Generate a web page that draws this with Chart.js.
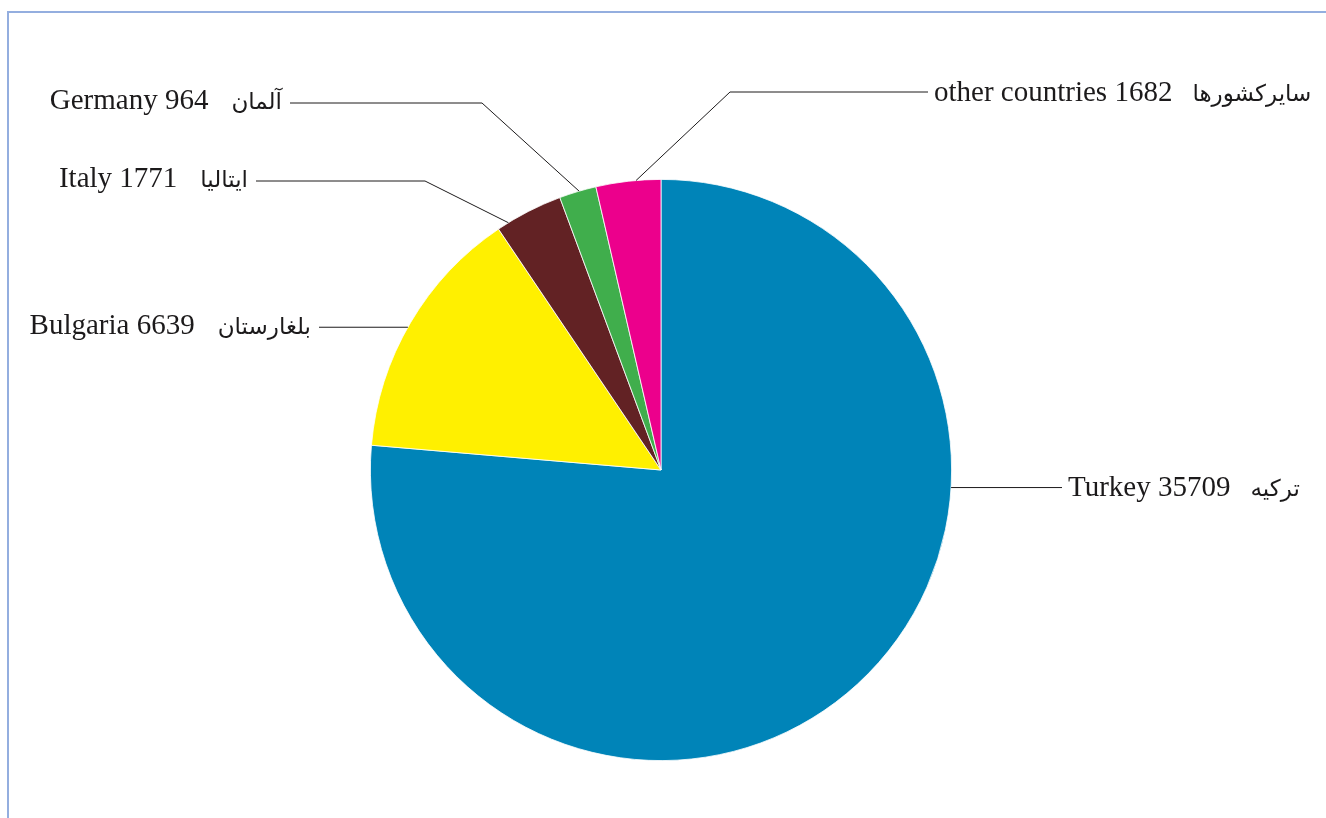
<!DOCTYPE html>
<html>
<head>
<meta charset="utf-8">
<script src="https://cdn.jsdelivr.net/npm/chart.js@4.4.1/dist/chart.umd.min.js"></script>
<style>
  html, body { margin: 0; padding: 0; background: #fff; }
  #wrap { position: relative; width: 1326px; height: 818px; overflow: hidden; }
  #frame {
    position: absolute; left: 7px; top: 11px; width: 1400px; height: 900px;
    border-top: 2px solid #94aedf; border-left: 2px solid #94aedf;
    pointer-events: none;
  }
  canvas { position: absolute; left: 0; top: 0; }
</style>
</head>
<body>
<div id="wrap">
  <div id="frame"></div>
  <canvas id="chart" width="1326" height="818"></canvas>
</div>
<script>
// data
const countries = ['Turkey', 'Bulgaria', 'Italy', 'Germany', 'other countries'];
const countriesFa = ['ترکیه', 'بلغارستان', 'ایتالیا', 'آلمان', 'سایرکشورها'];
const amounts = [35709, 6639, 1771, 964, 1682];
const sliceColors = ['#0084b8', '#fff000', '#622224', '#40ae4c', '#ec008c'];

// leader line layout: where on the arc (0..1), elbow point, end of line
const labelLayout = [
  { side: 'right', t: 0.34, elbow: null, lineEnd: 1062, dy: 8 },
  { side: 'left', t: 0.48, elbow: null, lineEnd: 319, dy: 7 },
  { side: 'left', t: 0.17, elbow: [425, 181], lineEnd: 256, dy: 6 },
  { side: 'left', t: 0.54, elbow: [482, 103], lineEnd: 290, dy: 6 },
  { side: 'right', t: 0.62, elbow: [730, 92], lineEnd: 928, dy: 9 },
];

const latinFont = '29px "Liberation Serif", "Times New Roman", serif';
const arabicFont = '23px "DejaVu Sans", sans-serif';
const inkColor = '#1c1a1b';

const leaderLabels = {
  id: 'leaderLabels',
  afterDraw(chart) {
    const ctx = chart.ctx;
    const meta = chart.getDatasetMeta(0);
    ctx.save();
    ctx.strokeStyle = inkColor;
    ctx.fillStyle = inkColor;
    ctx.lineWidth = 1;
    meta.data.forEach((arc, i) => {
      const p = arc.getProps(['x', 'y', 'startAngle', 'endAngle', 'outerRadius'], true);
      const lay = labelLayout[i];
      const a = p.startAngle + lay.t * (p.endAngle - p.startAngle);
      const sx = p.x + p.outerRadius * Math.cos(a);
      const sy = p.y + p.outerRadius * Math.sin(a);
      const ey = lay.elbow ? lay.elbow[1] : sy;

      ctx.beginPath();
      ctx.moveTo(sx, sy);
      if (lay.elbow) ctx.lineTo(lay.elbow[0], lay.elbow[1]);
      ctx.lineTo(lay.lineEnd, ey);
      ctx.stroke();

      const latin = countries[i] + ' ' + amounts[i];
      const base = ey + lay.dy;
      ctx.textBaseline = 'alphabetic';
      if (lay.side === 'left') {
        ctx.font = arabicFont;
        ctx.textAlign = 'right';
        const faRight = lay.lineEnd - 8;
        ctx.fillText(countriesFa[i], faRight, base);
        const faW = ctx.measureText(countriesFa[i]).width;
        ctx.font = latinFont;
        ctx.fillText(latin, faRight - faW - 23, base);
      } else {
        ctx.font = latinFont;
        ctx.textAlign = 'left';
        const enLeft = lay.lineEnd + 6;
        ctx.fillText(latin, enLeft, base);
        const enW = ctx.measureText(latin).width;
        ctx.font = arabicFont;
        ctx.fillText(countriesFa[i], enLeft + enW + 20, base);
      }
    });
    ctx.restore();
  }
};

new Chart(document.getElementById('chart'), {
  type: 'pie',
  data: {
    labels: countries,
    datasets: [{
      data: amounts,
      backgroundColor: sliceColors,
      borderColor: '#ffffff',
      borderWidth: 0.8,
    }]
  },
  options: {
    responsive: false,
    animation: false,
    layout: { padding: { top: 179, bottom: 57, left: 370, right: 374 } },
    plugins: {
      legend: { display: false },
      tooltip: { enabled: false },
    },
  },
  plugins: [leaderLabels],
});
</script>
</body>
</html>
